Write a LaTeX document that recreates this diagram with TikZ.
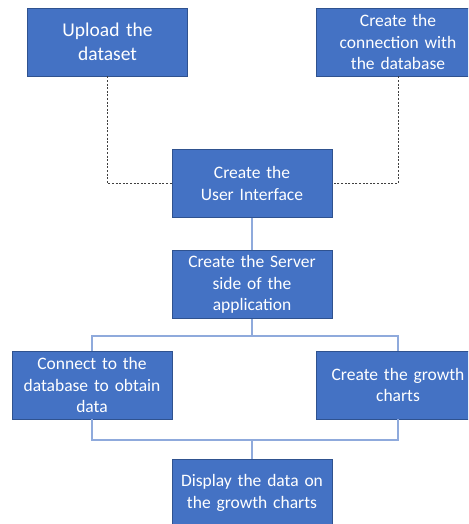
\documentclass[tikz,border=0pt]{standalone}
\usepackage{fontspec}
\setmainfont{Carlito}
\definecolor{boxfill}{HTML}{4472C4}
\definecolor{boxline}{HTML}{2F528F}
\definecolor{linkblue}{HTML}{8FAADC}
\definecolor{dashgray}{HTML}{404040}
\begin{document}
\begin{tikzpicture}[x=1pt,y=-1pt,
  stepbox/.style={draw=boxline, line width=0.9pt, fill=boxfill, text=white,
    minimum width=160pt, minimum height=68pt, inner sep=0pt,
    text width=156pt, align=center,
    font=\fontsize{17.5}{21.3}\selectfont},
  widebox/.style={stepbox, minimum width=164pt, text width=160pt},
  bigtext/.style={font=\fontsize{19.5}{23.4}\selectfont},
  link/.style={draw=linkblue, line width=1.1pt},
  dashlink/.style={draw=dashgray, line width=0.8pt, dash pattern=on 2pt off 1.6pt}]
\useasboundingbox (0,0) rectangle (468,524);
\clip (0,0) rectangle (468,524);
\node[stepbox, bigtext] (up) at (107.5,42) {Upload the\\dataset};
\node[widebox] (conn) at (398,42) {Create the\\connection with\\the database};
\node[stepbox] (ui) at (252,183.5) {Create the\\User Interface};
\node[stepbox] (srv) at (252,284.5) {Create the Server\\side of the\\application};
\node[stepbox] (cdb) at (92,385) {Connect to the\\database to obtain\\data};
\node[widebox] (gro) at (398,385) {Create the growth\\charts};
\node[stepbox] (disp) at (252,493) {Display the data on\\the growth charts};
\coordinate (b1) at (252,336);
\coordinate (b2) at (252,440);
\draw[dashlink] (up.south) |- (ui.west);
\draw[dashlink] (conn.south) |- (ui.east);
\draw[link] (ui.south) -- (srv.north);
\draw[link] (srv.south) -- (b1);
\draw[link] (b1) -| (cdb.north);
\draw[link] (b1) -| (gro.north);
\draw[link] (cdb.south) |- (b2);
\draw[link] (gro.south) |- (b2);
\draw[link] (b2) -- (disp.north);
\end{tikzpicture}
\end{document}
